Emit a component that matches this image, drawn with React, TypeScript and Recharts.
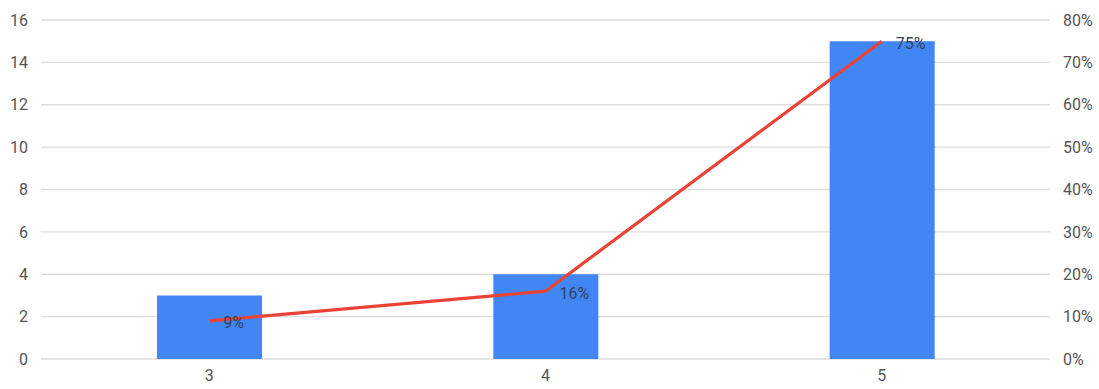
import React from "react";
import { ComposedChart, Bar, Line, XAxis, YAxis, CartesianGrid, LabelList } from "recharts";

const categories = ["3", "4", "5"];
const counts = [3, 4, 15];
const shares = [9, 16, 75]; // percent
const leftTicks = [0, 2, 4, 6, 8, 10, 12, 14, 16];
const rightTicks = [0, 10, 20, 30, 40, 50, 60, 70, 80];

const data = categories.map((c, i) => ({ name: c, count: counts[i], share: shares[i] }));

const FONT = "Roboto, 'Liberation Sans', Arial, sans-serif";
const tickStyle = { fill: "#555555", fontSize: 16, fontFamily: FONT };

const ShareLabel = (props: any) => {
  const { x, y, value } = props;
  return (
    <text
      x={x + 14}
      y={y + 2}
      fill="#34425c"
      fontSize={16}
      fontFamily={FONT}
      textAnchor="start"
      dominantBaseline="central"
    >
      {`${value}%`}
    </text>
  );
};

export default function App() {
  return (
    <div style={{ position: "absolute", left: 0, top: 0, background: "#fff" }}>
      <ComposedChart
        width={1099}
        height={389}
        data={data}
        margin={{ top: 20, right: 0, left: 0, bottom: 0 }}
        barSize={105}
      >
        <CartesianGrid vertical={false} stroke="#dedede" strokeWidth={1.3} yAxisId="left" />
        <XAxis
          dataKey="name"
          axisLine={false}
          tickLine={false}
          tickSize={0}
          tickMargin={11}
          height={30}
          tick={tickStyle}
        />
        <YAxis
          yAxisId="left"
          orientation="left"
          domain={[0, 16]}
          ticks={leftTicks}
          axisLine={false}
          tickLine={false}
          tickSize={0}
          tickMargin={13}
          width={41}
          tick={tickStyle}
        />
        <YAxis
          yAxisId="right"
          orientation="right"
          domain={[0, 80]}
          ticks={rightTicks}
          tickFormatter={(v: number) => `${v}%`}
          axisLine={false}
          tickLine={false}
          tickSize={0}
          tickMargin={13}
          width={49}
          tick={tickStyle}
        />
        <Bar yAxisId="left" dataKey="count" fill="#4285f4" isAnimationActive={false} />
        {/* labels sit beneath the red line */}
        <Line
          yAxisId="right"
          dataKey="share"
          stroke="none"
          dot={false}
          activeDot={false}
          isAnimationActive={false}
        >
          <LabelList dataKey="share" content={ShareLabel} />
        </Line>
        <Line
          yAxisId="right"
          dataKey="share"
          type="linear"
          stroke="#ea4335"
          strokeWidth={3.2}
          dot={false}
          activeDot={false}
          isAnimationActive={false}
        />
      </ComposedChart>
    </div>
  );
}
